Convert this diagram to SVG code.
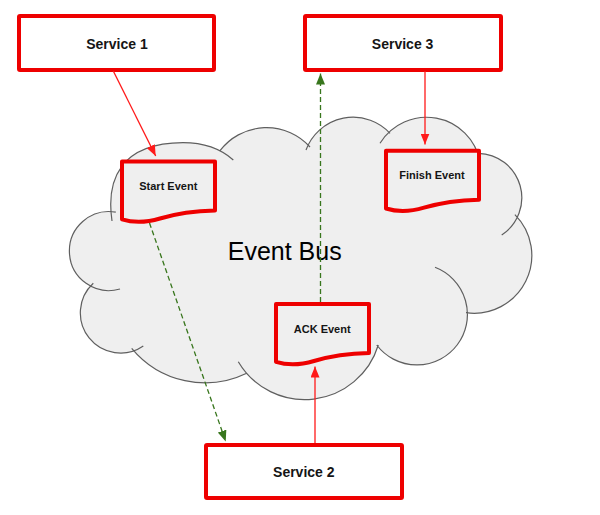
<svg xmlns="http://www.w3.org/2000/svg" xmlns:xlink="http://www.w3.org/1999/xlink" width="600" height="515" viewBox="0 0 600 515">
<style>
.svc{fill:#ffffff;stroke:#ee0000;stroke-width:4}
.doc{fill:#efefef;stroke:#ee0000;stroke-width:4;stroke-linejoin:round}
.lbl{font-family:"Liberation Sans",Arial,sans-serif;font-weight:700;fill:#151515;text-anchor:middle}
.big{font-size:14px}
.small{font-size:11px}
.cloudfill{fill:#efefef;stroke:none}
.cloudline{fill:none;stroke:#5f5f5f;stroke-width:1.2}
.red{fill:none;stroke:#ff1a1a;stroke-width:1.3}
.green{fill:none;stroke:#38761d;stroke-width:1.3;stroke-dasharray:5,3}
</style>
<defs>
<marker id="arR" markerUnits="userSpaceOnUse" markerWidth="11" markerHeight="9" refX="11" refY="4.5" orient="auto"><path d="M0,0 L11,4.5 L0,9 Z" fill="#ff1a1a"/></marker>
<marker id="arG" markerUnits="userSpaceOnUse" markerWidth="11" markerHeight="9" refX="11" refY="4.5" orient="auto"><path d="M0,0 L11,4.5 L0,9 Z" fill="#38761d"/></marker>
<path id="docshape" d="M0,0 H93 V49 C68,49.5 53,52.5 38,57 C23,61.5 10,61 0,57.8 Z"/>
</defs>

<g id="event-bus">
<path class="cloudfill" d="M120,289 A39.5,39.5 0 1 1 115.8,212.2 L112,221 C106,180 120,143 183,142.7 C205,142.7 222,150 233.3,160 L220,150.7 A58.5,58.5 0 0 1 310,147 L306,150 A50.3,50.3 0 0 1 390,133.3 L380,143.3 A54.5,54.5 0 0 1 480,161.7 L478.3,153.3 A44.5,44.5 0 0 1 501.7,235 L514.9,214.6 A57.8,57.8 0 0 1 466,312.7 L435,267.3 A50.5,50.5 0 1 1 376.7,345 L378.3,345 A77,77 0 0 1 238.3,361.7 L246.7,373.3 A95.3,95.3 0 0 1 131.7,348.3 L143.3,346 A40.2,40.2 0 0 1 93.3,283.3 Z"/>
<path class="cloudline" d="M120,289 A39.5,39.5 0 1 1 115.8,212.2 M112,221 C106,180 120,143 183,142.7 C205,142.7 222,150 233.3,160 M220,150.7 A58.5,58.5 0 0 1 310,147 M306,150 A50.3,50.3 0 0 1 390,133.3 M380,143.3 A54.5,54.5 0 0 1 480,161.7 M478.3,153.3 A44.5,44.5 0 0 1 501.7,235 M514.9,214.6 A57.8,57.8 0 0 1 466,312.7 M435,267.3 A50.5,50.5 0 1 1 376.7,345 M378.3,345 A77,77 0 0 1 238.3,361.7 M246.7,373.3 A95.3,95.3 0 0 1 131.7,348.3 M143.3,346 A40.2,40.2 0 0 1 93.3,283.3"/>
<text x="284.7" y="260" font-family="'Liberation Sans',Arial,sans-serif" font-size="25" fill="#000000" text-anchor="middle">Event Bus</text>
</g>

<g id="start-event">
<use xlink:href="#docshape" href="#docshape" class="doc" transform="translate(122,161.5)"/>
<text class="lbl small" x="168.3" y="190">Start Event</text>
</g>
<g id="finish-event">
<use xlink:href="#docshape" href="#docshape" class="doc" transform="translate(386,150.7)"/>
<text class="lbl small" x="432" y="178.7">Finish Event</text>
</g>
<g id="ack-event">
<use xlink:href="#docshape" href="#docshape" class="doc" transform="translate(276,304)"/>
<text class="lbl small" x="322.2" y="333.3">ACK Event</text>
</g>

<g id="service-1">
<rect class="svc" x="19" y="16" width="195" height="54" rx="1"/>
<text class="lbl big" x="117" y="49">Service 1</text>
</g>
<g id="service-3">
<rect class="svc" x="305" y="16" width="196" height="54" rx="1"/>
<text class="lbl big" x="402.6" y="49">Service 3</text>
</g>
<g id="service-2">
<rect class="svc" x="206" y="445" width="196" height="53" rx="1"/>
<text class="lbl big" x="303.8" y="477.3">Service 2</text>
</g>

<g id="connectors">
<line class="red" x1="113.3" y1="71" x2="155.7" y2="156" marker-end="url(#arR)"/>
<line class="red" x1="425" y1="71" x2="425" y2="144.5" marker-end="url(#arR)"/>
<line class="red" x1="315" y1="443" x2="315" y2="366.5" marker-end="url(#arR)"/>
<line class="green" x1="149.5" y1="223" x2="225.7" y2="441.5" marker-end="url(#arG)"/>
<line class="green" x1="320.5" y1="302" x2="320.5" y2="73.5" marker-end="url(#arG)"/>
</g>
</svg>
